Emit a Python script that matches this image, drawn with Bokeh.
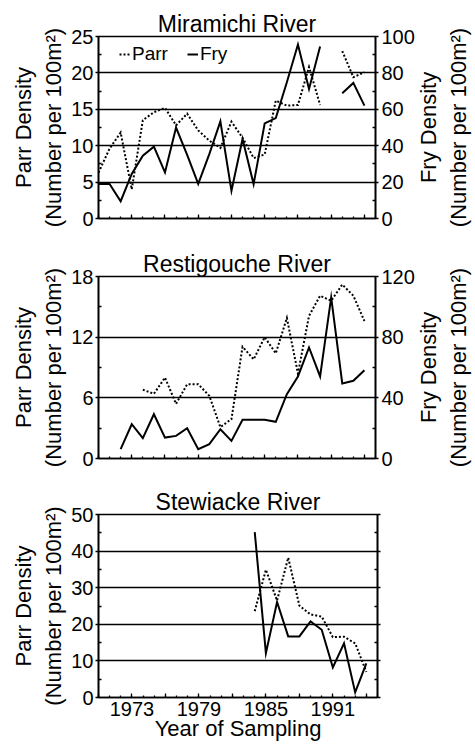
import math
from bokeh.plotting import figure
from bokeh.models import Range1d, LinearAxis, FixedTicker, Legend, LegendItem, ColumnDataSource
from bokeh.layouts import column, row
from bokeh.embed import file_html
from bokeh.resources import INLINE

nan = float("nan")

# ---------------- data ----------------
mir_years = list(range(1970, 1995))
mir_parr = [6.3, 9.6, 11.8, 4.0, 13.5, 14.6, 15.2, 12.8, 14.4, 12.1, 10.7, 9.7, 13.3,
            11.1, 8.3, 8.8, 16.2, 15.5, 15.6, 20.8, 15.6, nan, 23.0, 19.4, 20.1]
mir_fry = [19.0, 19.0, 9.5, 24.5, 34.5, 39.5, 25.3, 50.0, 35.0, 19.0, 35.4, 53.4, 15.2,
           43.7, 18.9, 52.3, 55.2, 74.9, 95.6, 71.2, 94.5, nan, 68.8, 74.5, 62.0]

res_parr_years = list(range(1974, 1995))
res_parr = [6.8, 6.4, 8.0, 5.4, 7.35, 7.35, 6.2, 3.1, 3.9, 11.05, 9.8, 12.0, 10.4,
            13.9, 8.4, 14.1, 16.1, 15.6, 17.2, 16.1, 13.6]
res_fry_years = list(range(1972, 1995))
res_fry = [6.2, 22.6, 13.4, 29.2, 13.8, 14.9, 20.0, 6.2, 9.5, 19.3, 11.6, 25.5, 25.5,
           25.5, 24.2, 42.4, 54.1, 73.2, 54.1, 106.2, 49.5, 51.2, 58.2]

stw_years = list(range(1984, 1995))
stw_parr = [23.6, 34.9, 26.5, 38.2, 25.1, 22.7, 22.1, 16.5, 16.6, 14.8, 7.0]
stw_fry = [45.2, 12.1, 26.1, 16.7, 16.7, 20.8, 18.5, 8.2, 14.8, 1.4, 9.3]

all_years = list(range(1970, 1996))
x_major = list(range(1970, 1995, 3))
x_labels = {1973: "1973", 1979: "1979", 1985: "1985", 1991: "1991"}

titles = ["Miramichi River", "Restigouche River", "Stewiacke River"]
parr_label = "Parr Density\n(Number per 100m\u00b2)"
fry_label = "Fry Density\n(Number per 100m\u00b2)"
x_title = "Year of Sampling"

FONT = "Liberation Sans"
LW = 1.6
MAIN_W = 417
SIDE_W = 58


def style_axis(ax, ticks, minor, show_labels=True):
    ax.ticker = FixedTicker(ticks=ticks, minor_ticks=minor)
    ax.axis_line_color = "black"
    ax.axis_line_width = LW
    ax.major_tick_line_color = "black"
    ax.minor_tick_line_color = "black"
    ax.major_tick_line_width = 1.3
    ax.minor_tick_line_width = 1.3
    ax.major_label_text_font = FONT
    ax.major_label_text_font_size = "20px"
    ax.major_label_text_color = "black"
    if not show_labels:
        ax.major_label_text_color = None
        ax.major_label_text_font_size = "1px"
    ax.axis_label_text_font = FONT
    ax.axis_label_text_font_size = "22px"
    ax.axis_label_text_font_style = "normal"
    ax.axis_label_text_color = "black"


def make_fig(height, top, bottom, ymax, yticks, yminor, title):
    p = figure(width=MAIN_W, height=height, x_range=Range1d(1970, 1995),
               y_range=Range1d(0, ymax), min_border_left=98, min_border_right=40,
               min_border_top=top, min_border_bottom=bottom, title=title,
               output_backend="svg", toolbar_location=None)
    p.title.align = "center"
    p.title.text_font = FONT
    p.title.text_font_size = "23px"
    p.title.text_font_style = "normal"
    p.title.text_color = "black"
    p.title.standoff = 0
    p.title.offset = 0
    p.outline_line_color = "black"
    p.outline_line_width = LW
    p.xgrid.grid_line_color = None
    p.ygrid.grid_line_color = "black"
    p.ygrid.grid_line_width = LW
    xa = p.xaxis[0]
    style_axis(xa, x_major, all_years, show_labels=False)
    xa.major_tick_in = 4
    xa.major_tick_out = 0
    xa.minor_tick_in = 2
    xa.minor_tick_out = 0
    ya = p.left[0]
    style_axis(ya, yticks, yminor)
    ya.major_tick_out = 3
    ya.major_tick_in = 0
    ya.minor_tick_in = 3
    ya.minor_tick_out = 0
    ya.major_label_standoff = 2
    ya.axis_label = parr_label
    ya.axis_label_standoff = 2
    return p


def add_right(p, rng_name, ticks, minor, show_labels):
    ra = LinearAxis(y_range_name=rng_name) if rng_name else LinearAxis()
    style_axis(ra, ticks, minor, show_labels)
    ra.major_tick_out = 3
    ra.major_tick_in = 0
    ra.minor_tick_in = 3
    ra.minor_tick_out = 0
    ra.major_label_standoff = 3
    p.add_layout(ra, "right")


def side_label(height, top, bottom, ymax):
    # narrow companion figure whose (invisible) left axis carries the right-hand title,
    # so that it reads bottom-to-top like the reference
    s = figure(width=SIDE_W, height=height, x_range=Range1d(0, 1),
               y_range=Range1d(0, ymax), x_axis_location=None, y_axis_location="left",
               min_border_left=SIDE_W - 1, min_border_right=0, min_border_top=top,
               min_border_bottom=bottom, output_backend="svg", toolbar_location=None)
    s.outline_line_color = None
    s.grid.visible = False
    ax = s.left[0]
    style_axis(ax, [], [], show_labels=False)
    ax.axis_line_color = None
    ax.major_tick_line_color = None
    ax.minor_tick_line_color = None
    ax.major_tick_in = 0
    ax.major_tick_out = 0
    ax.minor_tick_in = 0
    ax.minor_tick_out = 0
    ax.major_label_standoff = 0
    ax.axis_label = fry_label
    ax.axis_label_standoff = 5
    return s


def draw(p, xs, ys, dotted, rng=None):
    src = ColumnDataSource(dict(x=xs, y=ys))
    kw = dict(line_color="black", line_width=2, line_join="miter")
    if dotted:
        kw["line_dash"] = "2 2"
    if rng:
        kw["y_range_name"] = rng
    return p.line("x", "y", source=src, **kw)


# ---------------- panel 1 ----------------
p1 = make_fig(248, 36, 30, 25, [0, 5, 10, 15, 20, 25], [2.5, 7.5, 12.5, 17.5, 22.5], titles[0])
p1.extra_y_ranges = {"fry": Range1d(0, 100)}
add_right(p1, "fry", [0, 20, 40, 60, 80, 100], [10, 30, 50, 70, 90], True)
r_parr = draw(p1, mir_years, mir_parr, True)
r_fry = draw(p1, mir_years, mir_fry, False, "fry")
leg = Legend(items=[LegendItem(label="Parr", renderers=[r_parr]),
                    LegendItem(label="Fry", renderers=[r_fry])],
             location=(21, 153), orientation="horizontal", glyph_width=11, glyph_height=18,
             label_height=18, label_standoff=2, spacing=19, padding=0, margin=0,
             label_text_font=FONT, label_text_font_size="19px", label_text_color="black",
             background_fill_alpha=0, border_line_color=None)
p1.add_layout(leg)
s1 = side_label(248, 36, 30, 25)

# ---------------- panel 2 ----------------
p2 = make_fig(238, 28, 28, 18, [0, 6, 12, 18], [3, 9, 15], titles[1])
p2.extra_y_ranges = {"fry": Range1d(0, 120)}
add_right(p2, "fry", [0, 40, 80, 120], [20, 60, 100], True)
draw(p2, res_parr_years, res_parr, True)
draw(p2, res_fry_years, res_fry, False, "fry")
s2 = side_label(238, 28, 28, 18)

# ---------------- panel 3 ----------------
p3 = make_fig(259, 28, 48, 50, [0, 10, 20, 30, 40, 50], [5, 15, 25, 35, 45], titles[2])
add_right(p3, None, [0, 10, 20, 30, 40, 50], [5, 15, 25, 35, 45], False)
draw(p3, stw_years, stw_parr, True)
draw(p3, stw_years, stw_fry, False)
xa3 = p3.xaxis[0]
xa3.major_label_text_color = "black"
xa3.major_label_text_font_size = "20px"
xa3.major_label_overrides = {t: x_labels.get(t, "") for t in x_major}
xa3.major_label_standoff = 4
xa3.axis_label = x_title
xa3.axis_label_text_font_size = "22px"
xa3.axis_label_standoff = -3

layout = column(row(p1, s1), row(p2, s2), p3)
open("out.html", "w").write(file_html(layout, INLINE))
